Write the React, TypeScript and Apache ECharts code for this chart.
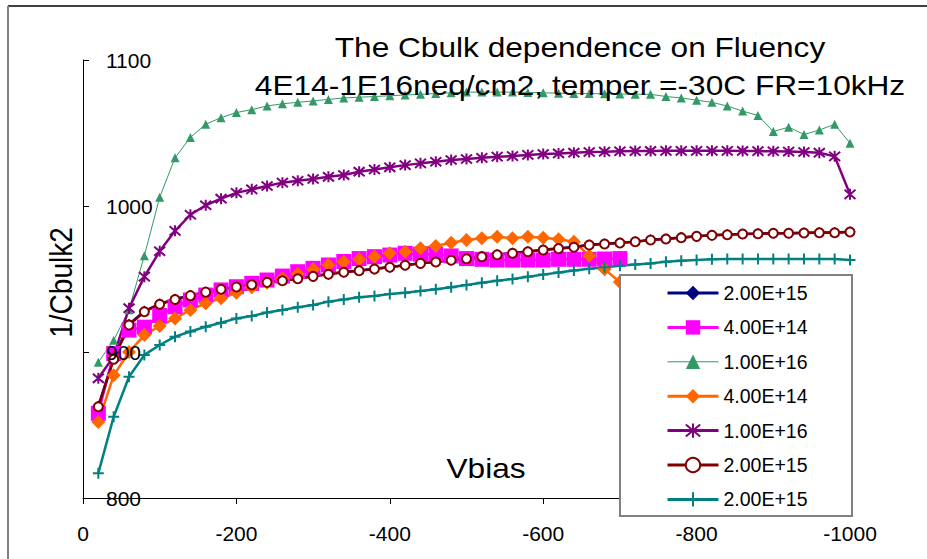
import React, { useEffect, useRef } from "react";
import * as echarts from "echarts";

// Bias voltage (V) of each measured point
const vbias = [
  -20, -40, -60, -80, -100, -120, -140, -160, -180, -200,
  -220, -240, -260, -280, -300, -320, -340, -360, -380, -400,
  -420, -440, -460, -480, -500, -520, -540, -560, -580, -600,
  -620, -640, -660, -680, -700, -720, -740, -760, -780, -800,
  -820, -840, -860, -880, -900, -920, -940, -960, -980, -1000,
];

const legendLabels = [
  "2.00E+15", "4.00E+14", "1.00E+16", "4.00E+14", "1.00E+16", "2.00E+15", "2.00E+15",
];

const navy2e15 = [
  863, 896, 919, 928, 933, 936.3, 938.8, 941, 943.2, 944.7,
  946.2, 947.8, 949, 950.4, 952, 953.4, 954.8, 955.9, 957, 958.2,
  959.5, 960.8, 961.8, 963, 964.1, 965.4, 966.7, 967.8, 968.9, 970,
  971, 971.9, 973.4, 974.1, 974.8, 975.6, 976.8, 977.5, 978.4, 979.3,
  980, 980.4, 980.9, 981.1, 981.4, 981.4, 981.6, 981.8, 981.8, 982.3,
];
const magenta4e14 = [
  858, 899, 915, 917, 925, 931, 935.6, 939, 942.5, 944.7,
  947, 949.3, 952, 955, 957.3, 959.6, 962, 964, 965.3, 966.4,
  967.6, 967, 967, 965.8, 964, 963.5, 963, 963, 963, 963,
  963.5, 963.5, 963.5, 963.7, 964,
];
const green1e16 = [
  893, 908, 929, 966, 1006, 1033, 1047, 1056, 1060.5, 1064,
  1066, 1068.5, 1070, 1071, 1072, 1073, 1074, 1074.5, 1075, 1075.5,
  1076, 1076.5, 1077, 1077.5, 1078, 1078, 1078, 1078, 1077.8, 1077.5,
  1077.3, 1077, 1077, 1076.8, 1076.7, 1076.6, 1076.5, 1075, 1074, 1072.5,
  1071, 1068.5, 1065, 1062, 1051, 1054, 1049, 1052, 1056, 1043,
];
const orange4e14 = [
  852, 884, 900, 911.6, 917.8, 923, 928.8, 933.4, 936.8, 940.6,
  944.3, 947.5, 950.5, 953.4, 956.6, 959.6, 961.8, 963.5, 965.3, 967.6,
  968.7, 971, 972.6, 974.9, 976.7, 977.9, 979, 977.9, 979, 978.3,
  977.2, 975.5, 966, 956.6, 948,
];
const purple1e16 = [
  882, 897, 930, 951.6, 969, 983, 994, 1000.5, 1005, 1009,
  1011.4, 1013.7, 1016, 1017.3, 1018.5, 1020, 1021.2, 1023.5, 1025, 1026.5,
  1028, 1029.2, 1030.3, 1031.5, 1032.2, 1033, 1033.8, 1034.2, 1035, 1035.6,
  1036, 1036.5, 1037, 1037.2, 1037.5, 1037.6, 1037.7, 1037.8, 1037.8, 1037.8,
  1037.8, 1037.8, 1037.7, 1037.6, 1037.5, 1037.3, 1037, 1036.5, 1034, 1008,
];
const maroon2e15 = [
  862.5, 895, 918.5, 927.6, 932.7, 936, 938.6, 941, 943, 944.5,
  946, 947.7, 948.8, 950.2, 951.8, 953.2, 954.6, 955.7, 956.8, 958,
  959.4, 960.7, 961.6, 962.8, 963.9, 965.3, 966.6, 967.6, 968.7, 969.9,
  970.8, 971.7, 973.3, 974, 974.7, 975.5, 976.7, 977.4, 978.3, 979.2,
  979.9, 980.3, 980.8, 981, 981.3, 981.3, 981.5, 981.7, 981.7, 982.2,
];
const teal2e15 = [
  817, 855.7, 883, 898, 904.8, 910.5, 914, 917.3, 920, 923,
  924.7, 927, 928.8, 930.6, 932.2, 934.5, 936, 937.5, 938.4, 939.7,
  940.6, 941.8, 943, 944.3, 945.9, 947.5, 948.8, 950, 951.5, 953,
  954.5, 955.8, 957, 958, 959, 960, 960.7, 961.8, 962.5, 963,
  963.5, 963.7, 963.7, 963.7, 963.7, 963.7, 963.7, 963.7, 963.7, 963,
];

const FONT = "'Liberation Sans', Arial, sans-serif";
const ASTERISK = "path://M0,0L10,10M10,0L0,10M5,-1L5,11";
const PLUS = "path://M5,0L5,10M0,5L10,5";

function pairs(values: number[]) {
  return values.map((v, i) => [vbias[i], v]);
}

export default function App() {
  const ref = useRef<HTMLDivElement>(null);

  useEffect(() => {
    if (!ref.current) return;
    const chart = echarts.init(ref.current, null, { renderer: "svg" });

    const mk = (
      idx: number,
      values: number[],
      color: string,
      symbol: string,
      symbolSize: number,
      lineWidth: number,
      item: any = {}
    ) => ({
      type: "line",
      name: "s" + idx,
      data: pairs(values),
      symbol,
      symbolSize,
      showSymbol: true,
      lineStyle: { color, width: lineWidth },
      itemStyle: { color, ...item },
      emphasis: { disabled: true },
      z: 2,
    });

    const series = [
      mk(0, navy2e15, "#000080", "diamond", 11, 2.5),
      mk(1, magenta4e14, "#FF00FF", "rect", 15, 2.5),
      mk(2, green1e16, "#339966", "triangle", 9, 1),
      mk(3, orange4e14, "#FF6600", "diamond", 14, 2.5),
      mk(4, purple1e16, "#800080", ASTERISK, 11, 2.5, {
        borderColor: "#800080",
        borderWidth: 2,
      }),
      mk(5, maroon2e15, "#800000", "emptyCircle", 9, 2.5, {
        borderColor: "#800000",
        borderWidth: 2,
      }),
      mk(6, teal2e15, "#008080", PLUS, 11, 2.5, {
        borderColor: "#008080",
        borderWidth: 2,
      }),
    ];

    const plain = (v: number) => String(v);

    const option: any = {
      animation: false,
      backgroundColor: "#ffffff",
      textStyle: { fontFamily: FONT },
      grid: { left: 83, right: 77, top: 60, bottom: 61, containLabel: false },
      xAxis: {
        type: "value",
        min: -1000,
        max: 0,
        interval: 200,
        inverse: true,
        axisLine: { show: true, lineStyle: { color: "#000", width: 1 } },
        axisTick: { show: true, inside: false, length: 6, lineStyle: { color: "#000" } },
        axisLabel: { color: "#000", fontSize: 21, margin: 25, fontFamily: FONT, formatter: plain },
        splitLine: { show: false },
      },
      yAxis: {
        type: "value",
        min: 800,
        max: 1100,
        interval: 100,
        z: 3,
        axisLine: { show: true, lineStyle: { color: "#000", width: 1 } },
        axisTick: { show: true, inside: true, length: 6, lineStyle: { color: "#000" } },
        axisLabel: {
          inside: true,
          color: "#000",
          fontSize: 21,
          margin: 23,
          fontFamily: FONT,
          formatter: plain,
        },
        splitLine: { show: false },
      },
      legend: {
        orient: "vertical",
        left: 666,
        top: 283,
        padding: 0,
        itemWidth: 51,
        itemHeight: 18,
        itemGap: 14.4,
        z: 10,
        selectedMode: false,
        formatter: (name: string) => legendLabels[Number(name.slice(1))],
        textStyle: { color: "#000", fontSize: 19.5, lineHeight: 20, fontFamily: FONT },
        data: series.map((s, i) => ({
          name: s.name,
          lineStyle: { width: i === 2 ? 1 : 3 },
        })),
      },
      graphic: [
        {
          type: "line",
          z: 0,
          shape: { x1: 8, y1: 6, x2: 927, y2: 6 },
          style: { stroke: "#000", lineWidth: 1.5 },
        },
        {
          type: "line",
          z: 0,
          shape: { x1: 8, y1: 6, x2: 8, y2: 559 },
          style: { stroke: "#808080", lineWidth: 2 },
        },
        {
          type: "rect",
          z: 5,
          shape: { x: 620, y: 275, width: 232, height: 241 },
          style: { fill: "#fff", stroke: "#808080", lineWidth: 2 },
        },
        {
          type: "text",
          z: 6,
          x: 580,
          y: 47,
          scaleX: 1.13,
          style: {
            text: "The Cbulk dependence on Fluency",
            fontSize: 28,
            fontFamily: FONT,
            fill: "#000",
            textAlign: "center",
            textVerticalAlign: "middle",
          },
        },
        {
          type: "text",
          z: 6,
          x: 580,
          y: 85,
          scaleX: 1.13,
          style: {
            text: "4E14-1E16neq/cm2, temper =-30C FR=10kHz",
            fontSize: 28,
            fontFamily: FONT,
            fill: "#000",
            textAlign: "center",
            textVerticalAlign: "middle",
          },
        },
        {
          type: "text",
          z: 6,
          x: 486,
          y: 468,
          scaleX: 1.13,
          style: {
            text: "Vbias",
            fontSize: 28,
            fontFamily: FONT,
            fill: "#000",
            textAlign: "center",
            textVerticalAlign: "middle",
          },
        },
        {
          type: "text",
          z: 6,
          x: 61,
          y: 282.5,
          rotation: Math.PI / 2,
          scaleY: 1.13,
          style: {
            text: "1/Cbulk2",
            fontSize: 28,
            fontFamily: FONT,
            fill: "#000",
            textAlign: "center",
            textVerticalAlign: "middle",
          },
        },
      ],
      series,
    };

    chart.setOption(option);
    return () => chart.dispose();
  }, []);

  return (
    <div
      ref={ref}
      style={{ position: "fixed", left: 0, top: 0, width: 927, height: 559, background: "#fff" }}
    />
  );
}
